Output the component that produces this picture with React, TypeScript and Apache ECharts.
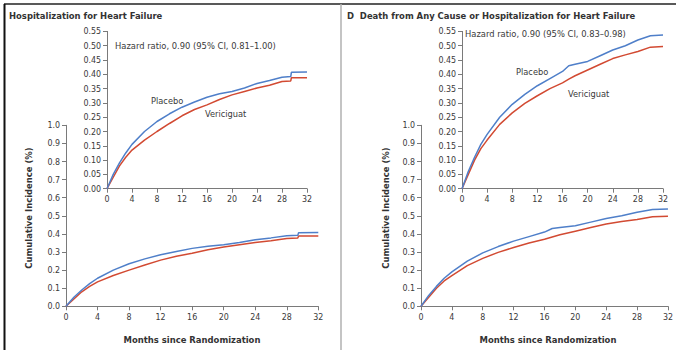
import React, { useEffect, useRef } from "react";
import * as echarts from "echarts";

// ---- Data ----
const monthTicks = [0, 4, 8, 12, 16, 20, 24, 28, 32];

// Panel C: Hospitalization for heart failure
const hfMonths = [0, 1, 2, 3, 4, 6, 8, 10, 12, 14, 16, 18, 20, 22, 24, 26, 28, 29.4, 29.5, 32];
const hfPlacebo = [0, 0.05, 0.09, 0.125, 0.155, 0.2, 0.235, 0.262, 0.285, 0.303, 0.32, 0.332, 0.34, 0.352, 0.368, 0.378, 0.39, 0.392, 0.407, 0.408];
const hfVericiguat = [0, 0.04, 0.08, 0.11, 0.135, 0.17, 0.2, 0.228, 0.255, 0.277, 0.293, 0.312, 0.328, 0.34, 0.352, 0.362, 0.375, 0.377, 0.388, 0.388];

// Panel D: Death from any cause or hospitalization for heart failure
const dhMonths = [0, 1, 2, 3, 4, 6, 8, 10, 12, 14, 16, 17, 18, 20, 22, 24, 26, 28, 30, 32];
const dhPlacebo = [0, 0.06, 0.11, 0.155, 0.19, 0.25, 0.295, 0.33, 0.36, 0.385, 0.41, 0.43, 0.435, 0.445, 0.465, 0.485, 0.5, 0.52, 0.535, 0.537];
const dhVericiguat = [0, 0.05, 0.1, 0.14, 0.17, 0.225, 0.265, 0.298, 0.325, 0.35, 0.37, 0.383, 0.395, 0.415, 0.435, 0.455, 0.468, 0.48, 0.495, 0.497];

const panelTitles = ["Hospitalization for Heart Failure", "D  Death from Any Cause or Hospitalization for Heart Failure"];
const hazardTexts = ["Hazard ratio, 0.90 (95% CI, 0.81\u20131.00)", "Hazard ratio, 0.90 (95% CI, 0.83\u20130.98)"];
const groupNames = ["Placebo", "Vericiguat"];
const yTitle = "Cumulative Incidence (%)";
const xTitle = "Months since Randomization";

const BLUE = "#4f7fc9";
const RED = "#d24a32";
const AXIS = "#7a7a7a";
const TXT = "#3a3a3a";
const FONT = "'Liberation Sans Narrow', 'DejaVu Sans Condensed', 'Roboto', sans-serif";

const zip = (xs: number[], ys: number[]) => xs.map((x, i) => [x, ys[i]]);

export default function App() {
  const ref = useRef<HTMLDivElement>(null);

  useEffect(() => {
    document.body.style.margin = "0";
    const chart = echarts.init(ref.current!, undefined, { renderer: "svg" });

    const grids = [
      { left: 66, top: 125.3, width: 252.3, height: 181 }, // C main
      { left: 107, top: 31.4, width: 200, height: 157.3 }, // C inset
      { left: 421, top: 125.3, width: 252, height: 181 }, // D main
      { left: 462, top: 31.4, width: 201, height: 157.3 }, // D inset
    ];

    const axisCommon = {
      axisLine: { show: true, lineStyle: { color: AXIS, width: 1 } },
      axisTick: { show: true, length: 4, lineStyle: { color: AXIS, width: 1 } },
      splitLine: { show: false },
      axisLabel: { color: TXT, fontFamily: FONT, fontSize: 8.8 },
    };

    const xAxes = grids.map((_, i) => ({
      type: "value",
      gridIndex: i,
      min: monthTicks[0],
      max: monthTicks[monthTicks.length - 1],
      interval: monthTicks[1] - monthTicks[0],
      ...axisCommon,
      axisLabel: { ...axisCommon.axisLabel, margin: 6, showMaxLabel: true },
    }));

    const yAxes = grids.map((_, i) => {
      const inset = i % 2 === 1;
      return {
        type: "value",
        gridIndex: i,
        min: 0,
        max: inset ? 0.55 : 1.0,
        interval: inset ? 0.05 : 0.1,
        ...axisCommon,
        axisLabel: {
          ...axisCommon.axisLabel,
          margin: 6,
          formatter: (v: number) => v.toFixed(inset ? 2 : 1),
        },
      };
    });

    const mk = (data: number[][], color: string, idx: number) => ({
      type: "line",
      xAxisIndex: idx,
      yAxisIndex: idx,
      data,
      showSymbol: false,
      symbol: "none",
      lineStyle: { color, width: 1.5 },
      z: 3,
    });

    const hfP = zip(hfMonths, hfPlacebo);
    const hfV = zip(hfMonths, hfVericiguat);
    const dhP = zip(dhMonths, dhPlacebo);
    const dhV = zip(dhMonths, dhVericiguat);

    const series = [
      mk(hfV, RED, 0), mk(hfP, BLUE, 0),
      mk(hfV, RED, 1), mk(hfP, BLUE, 1),
      mk(dhV, RED, 2), mk(dhP, BLUE, 2),
      mk(dhV, RED, 3), mk(dhP, BLUE, 3),
    ];

    const textStyle = (size: number, weight: any = "normal", color = TXT) => ({
      fill: color,
      fontFamily: FONT,
      fontSize: size,
      fontWeight: weight,
    });

    const graphic: any[] = [
      // frame
      { type: "line", shape: { x1: 4, y1: 4, x2: 676, y2: 4 }, style: { stroke: "#222", lineWidth: 1.5 } },
      { type: "line", shape: { x1: 4.5, y1: 4, x2: 4.5, y2: 350 }, style: { stroke: "#111", lineWidth: 2 } },
      { type: "line", shape: { x1: 341, y1: 4, x2: 341, y2: 350 }, style: { stroke: "#b0b0b0", lineWidth: 1.5 } },
      // titles
      { type: "text", x: 9, y: 15, style: { text: panelTitles[0], ...textStyle(9.4, "bold", "#333"), verticalAlign: "middle" } },
      { type: "text", x: 347, y: 15, style: { text: panelTitles[1], ...textStyle(9.4, "bold", "#333"), verticalAlign: "middle" } },
      // hazard ratios
      { type: "text", x: 115, y: 45.7, style: { text: hazardTexts[0], ...textStyle(9.3), verticalAlign: "middle" } },
      { type: "text", x: 465, y: 33, style: { text: hazardTexts[1], ...textStyle(9.3), verticalAlign: "middle" } },
      // group labels
      { type: "text", x: 151, y: 100, style: { text: groupNames[0], ...textStyle(9.2), verticalAlign: "middle" } },
      { type: "text", x: 205, y: 113, style: { text: groupNames[1], ...textStyle(9.2), verticalAlign: "middle" } },
      { type: "text", x: 516, y: 71, style: { text: groupNames[0], ...textStyle(9.2), verticalAlign: "middle" } },
      { type: "text", x: 568, y: 93, style: { text: groupNames[1], ...textStyle(9.2), verticalAlign: "middle" } },
      // x titles
      { type: "text", x: 192, y: 339, style: { text: xTitle, ...textStyle(9.4, "bold", "#333"), align: "center", verticalAlign: "middle" } },
      { type: "text", x: 548, y: 339, style: { text: xTitle, ...textStyle(9.4, "bold", "#333"), align: "center", verticalAlign: "middle" } },
      // y titles
      { type: "text", x: 28, y: 208, rotation: Math.PI / 2, style: { text: yTitle, ...textStyle(9.4, "bold", "#333"), align: "center", verticalAlign: "middle" } },
      { type: "text", x: 385, y: 208, rotation: Math.PI / 2, style: { text: yTitle, ...textStyle(9.4, "bold", "#333"), align: "center", verticalAlign: "middle" } },
    ];

    chart.setOption({
      animation: false,
      backgroundColor: "#ffffff",
      grid: grids.map((g) => ({ ...g, containLabel: false })),
      xAxis: xAxes,
      yAxis: yAxes,
      series,
      graphic,
    } as any);

    return () => chart.dispose();
  }, []);

  return <div ref={ref} style={{ width: 676, height: 350 }} />;
}
